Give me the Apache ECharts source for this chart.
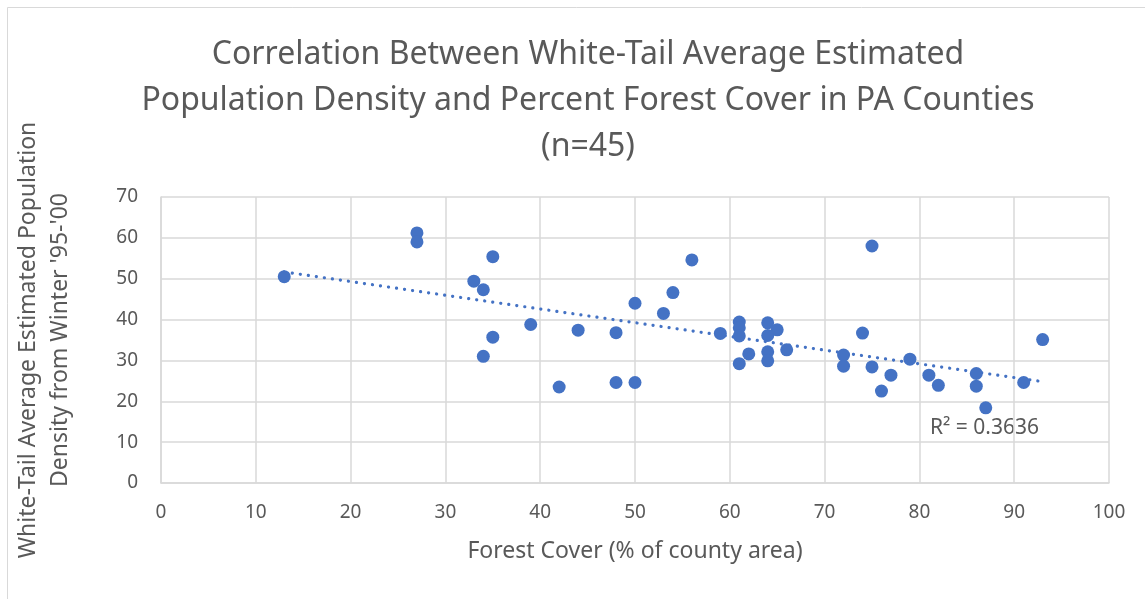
<!DOCTYPE html>
<html>
<head>
<meta charset="utf-8">
<script src="https://cdn.jsdelivr.net/npm/echarts@6/dist/echarts.min.js"></script>
<style>
html,body{margin:0;padding:0;background:#fff;}
#c{width:1145px;height:599px;}
</style>
</head>
<body>
<div id="c"></div>
<script>
const forestCover = [13,27,27,35,33,34,35,34,39,44,48,42,48,50,50,53,54,56,59,61,61,61,61,62,64,65,64,64,64,66,75,74,72,72,75,77,76,79,81,82,86,86,87,91,93];
const deerDensity = [50.5,61.2,59.0,55.4,49.4,47.3,35.7,31.0,38.8,37.4,36.8,23.5,24.6,24.6,44.0,41.5,46.6,54.6,36.6,39.4,38.0,36.0,29.2,31.6,39.2,37.5,36.1,32.1,29.9,32.6,58.0,36.7,31.3,28.6,28.4,26.4,22.5,30.3,26.4,23.9,26.8,23.7,18.4,24.6,35.1];
const xTicks = [0,10,20,30,40,50,60,70,80,90,100];
const yTicks = [0,10,20,30,40,50,60,70];
const r2Label = 'R² = 0.3636';

const points = forestCover.map((x,i)=>[x, deerDensity[i]]);
// least squares trendline computed from data
const n = points.length;
let sx=0, sy=0, sxx=0, sxy=0;
points.forEach(p=>{sx+=p[0];sy+=p[1];sxx+=p[0]*p[0];sxy+=p[0]*p[1];});
const slope = (n*sxy - sx*sy)/(n*sxx - sx*sx);
const intercept = (sy - slope*sx)/n;
const xmin = Math.min(...forestCover), xmax = Math.max(...forestCover);
const trend = [[xmin, intercept+slope*xmin],[xmax, intercept+slope*xmax]];

const chart = echarts.init(document.getElementById('c'), null, {renderer:'canvas'});
const font = 'Noto Sans';
chart.setOption({
  animation:false,
  backgroundColor:'#fff',
  title:{
    text:'Correlation Between White-Tail Average Estimated\nPopulation Density and Percent Forest Cover in PA Counties\n(n=45)',
    left: 583, textAlign:'center', top:27,
    textStyle:{fontFamily:font, fontWeight:'normal', fontSize:32, color:'#595959', lineHeight:46}
  },
  graphic:[
    {type:'rect', shape:{x:7.5,y:7.5,width:1200,height:700}, style:{fill:'none', stroke:'#d9d9d9', lineWidth:1}, silent:true},
    {type:'text', left:930, top:418, style:{text:r2Label, font:'21px "Noto Sans"', fill:'#595959'}}
  ],
  grid:{left:161, right:36, top:197, bottom:116},
  xAxis:{
    type:'value', min:0, max:100, interval:10,
    name:'Forest Cover (% of county area)', nameLocation:'middle', nameGap:57,
    nameTextStyle:{fontFamily:font, fontSize:23, color:'#595959'},
    axisLine:{show:true, lineStyle:{color:'#d9d9d9', width:1.5}},
    axisTick:{show:false},
    axisLabel:{fontFamily:font, fontSize:19, color:'#595959', margin:20},
    splitLine:{show:true, lineStyle:{color:'#d9d9d9', width:1.5}}
  },
  yAxis:{
    type:'value', min:0, max:70, interval:10,
    name:"White-Tail Average Estimated Population\nDensity from Winter '95-'00", nameLocation:'middle', nameGap:85, nameRotate:90,
    nameTextStyle:{fontFamily:font, fontSize:23, color:'#595959', lineHeight:32},
    axisLine:{show:true, lineStyle:{color:'#d9d9d9', width:1.5}},
    axisTick:{show:false},
    axisLabel:{fontFamily:font, fontSize:19, color:'#595959', margin:23},
    splitLine:{show:true, lineStyle:{color:'#d9d9d9', width:1.5}}
  },
  series:[
    {
      type:'line', data:trend, symbol:'none', z:1,
      lineStyle:{color:'#4472C4', width:3.2, type:[0.1,8], cap:'round'}
    },
    {
      type:'scatter', data:points, symbolSize:13, z:2,
      itemStyle:{color:'#4472C4', opacity:1}
    }
  ]
});
</script>
</body>
</html>
